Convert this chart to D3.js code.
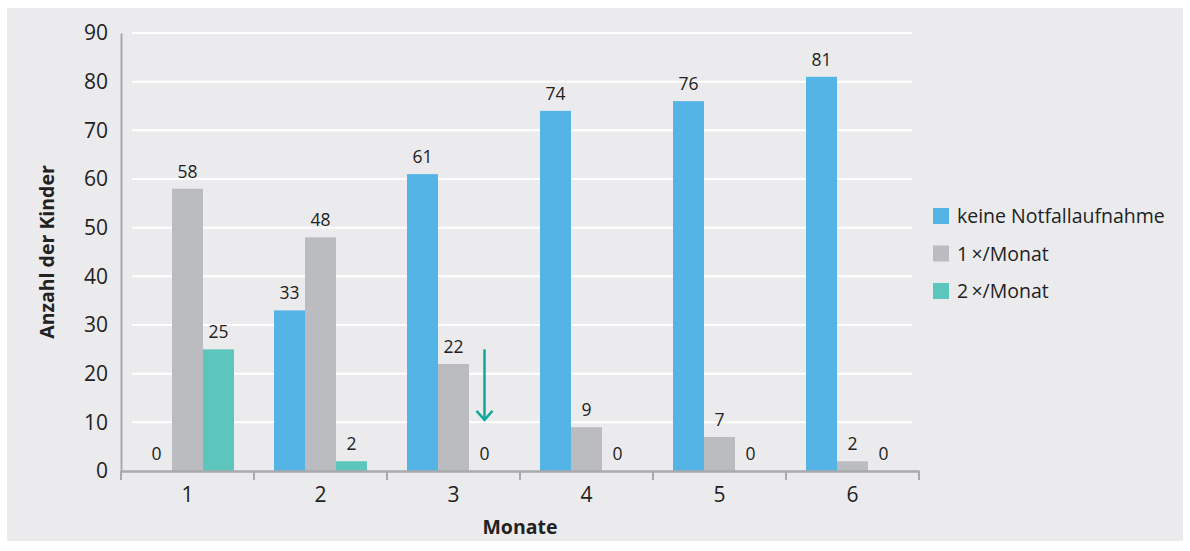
<!DOCTYPE html>
<html>
<head>
<meta charset="utf-8">
<script src="https://cdn.jsdelivr.net/npm/d3@7"></script>
<style>
  html, body { margin: 0; padding: 0; background: #ffffff; }
  svg { display: block; font-family: "Open Sans", "Noto Sans", sans-serif; }
</style>
</head>
<body>
<div id="chart"></div>
<script>
// Chart data
const months = ['1', '2', '3', '4', '5', '6'];
const seriesNames = ['keine Notfallaufnahme', '1\u2009×/Monat', '2\u2009×/Monat'];
const keineNotfall = [0, 33, 61, 74, 76, 81];
const einmalMonat = [58, 48, 22, 9, 7, 2];
const zweimalMonat = [25, 2, 0, 0, 0, 0];
const yTicks = [0, 10, 20, 30, 40, 50, 60, 70, 80, 90];
const colors = ['#55b4e6', '#bbbcc0', '#5cc5bc'];

const width = 1190, height = 551;
const margin = { left: 121, right: 271, top: 33, bottom: 80 };

const svg = d3.select('#chart')
  .append('svg')
  .attr('width', width)
  .attr('height', height);

// panel background
svg.append('rect')
  .attr('x', 7).attr('y', 8)
  .attr('width', 1176).attr('height', 533)
  .attr('fill', '#ebebed');

const x = d3.scaleBand()
  .domain(months)
  .range([margin.left, width - margin.right]);

const y = d3.scaleLinear()
  .domain([0, 90])
  .range([height - margin.bottom, margin.top]);

const barW = 31;
const xSub = d3.scaleBand()
  .domain(seriesNames)
  .range([0, barW * 3]);

// gridlines
svg.append('g')
  .selectAll('line')
  .data(yTicks.filter(d => d > 0))
  .enter()
  .append('line')
  .attr('x1', margin.left + 11)
  .attr('x2', width - margin.right - 7)
  .attr('y1', d => y(d))
  .attr('y2', d => y(d))
  .attr('stroke', '#ffffff')
  .attr('stroke-width', 2);

// y axis (drop d3's default sans-serif so the page font is used)
const yAxis = svg.append('g')
  .attr('transform', `translate(${margin.left},0)`)
  .call(d3.axisLeft(y).tickValues(yTicks).tickSize(0).tickPadding(13))
  .attr('font-family', null);
yAxis.select('.domain').attr('stroke', '#a9aaad').attr('stroke-width', 2);
yAxis.selectAll('text')
  .attr('font-size', 21)
  .attr('fill', '#222222');

// bars
const series = [keineNotfall, einmalMonat, zweimalMonat];
const groups = svg.append('g')
  .selectAll('g')
  .data(series)
  .enter()
  .append('g')
  .attr('fill', (d, i) => colors[i]);

groups.each(function(values, si) {
  const g = d3.select(this);
  const off = x.bandwidth() / 2 - barW * 1.5 + xSub(seriesNames[si]);
  g.selectAll('rect')
    .data(values)
    .enter()
    .append('rect')
    .attr('x', (d, i) => x(months[i]) + off)
    .attr('y', d => y(d))
    .attr('width', barW)
    .attr('height', d => y(0) - y(d));

  g.selectAll('text')
    .data(values)
    .enter()
    .append('text')
    .attr('x', (d, i) => x(months[i]) + off + barW / 2)
    .attr('y', d => y(d) - 11)
    .attr('text-anchor', 'middle')
    .attr('font-size', 17.5)
    .attr('fill', '#222222')
    .text(d => d);
});

// x axis
const xAxis = svg.append('g')
  .attr('transform', `translate(0,${y(0)})`)
  .call(d3.axisBottom(x).tickSize(0).tickPadding(16))
  .attr('font-family', null);
xAxis.select('.domain').attr('stroke', '#a9aaad').attr('stroke-width', 2.5);
xAxis.selectAll('text')
  .attr('font-size', 21)
  .attr('fill', '#222222');

// tick marks at band boundaries
xAxis.selectAll('.bound')
  .data(months.map(m => x(m)).concat([x(months[months.length - 1]) + x.bandwidth()]))
  .enter()
  .append('line')
  .attr('class', 'bound')
  .attr('x1', d => d).attr('x2', d => d)
  .attr('y1', 0).attr('y2', 9)
  .attr('stroke', '#a9aaad')
  .attr('stroke-width', 2);

// annotation arrow in month 3 (2x/Monat dropped to 0)
const arrowX = x('3') + x.bandwidth() / 2 - barW * 1.5 + xSub(seriesNames[2]) + barW / 2;
const arrowTop = y(25), arrowBot = y(10.5);
svg.append('line')
  .attr('x1', arrowX).attr('x2', arrowX)
  .attr('y1', arrowTop).attr('y2', arrowBot)
  .attr('stroke', '#0fa89a').attr('stroke-width', 2.5);
svg.append('path')
  .attr('d', `M${arrowX - 8},${arrowBot - 9} L${arrowX},${arrowBot} L${arrowX + 8},${arrowBot - 9}`)
  .attr('fill', 'none')
  .attr('stroke', '#0fa89a').attr('stroke-width', 2.5);

// axis titles
svg.append('text')
  .attr('x', (margin.left + width - margin.right) / 2)
  .attr('y', 534)
  .attr('text-anchor', 'middle')
  .attr('font-size', 19.5)
  .attr('font-weight', 700)
  .attr('fill', '#222222')
  .text('Monate');

svg.append('text')
  .attr('transform', `translate(54,${(margin.top + height - margin.bottom) / 2}) rotate(-90)`)
  .attr('text-anchor', 'middle')
  .attr('font-size', 19.5)
  .attr('font-weight', 700)
  .attr('fill', '#222222')
  .text('Anzahl der Kinder');

// legend
const legend = svg.append('g')
  .attr('transform', 'translate(933,208)');
const items = legend.selectAll('g')
  .data(seriesNames)
  .enter()
  .append('g')
  .attr('transform', (d, i) => `translate(0,${i * 37.5})`);
items.append('rect')
  .attr('width', 16).attr('height', 16)
  .attr('fill', (d, i) => colors[i]);
items.append('text')
  .attr('x', 24).attr('y', 15)
  .attr('font-size', 19.5)
  .attr('fill', '#222222')
  .text(d => d);
</script>
</body>
</html>
